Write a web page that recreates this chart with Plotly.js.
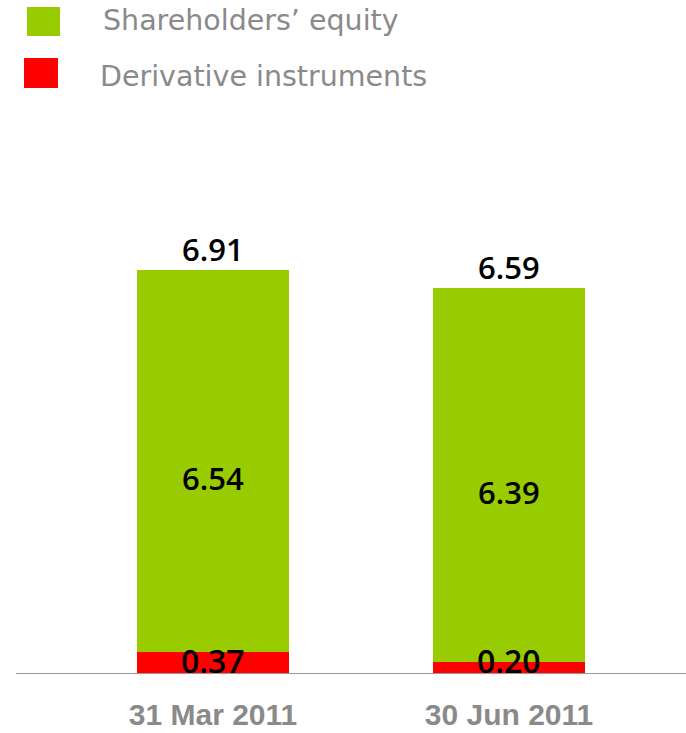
<!DOCTYPE html>
<html>
<head>
<meta charset="utf-8">
<script src="https://cdn.plot.ly/plotly-3.0.1.min.js"></script>
<style>html,body{margin:0;padding:0;background:#fff;}#chart{width:686px;height:733px;}</style>
</head>
<body>
<div id="chart"></div>
<script>
const categories = ["31 Mar 2011", "30 Jun 2011"];
const derivative = [0.37, 0.20];
const equity = [6.54, 6.39];
const totals = [6.91, 6.59];
const seriesNames = ["Shareholders’ equity", "Derivative instruments"];

const GREEN = "#99CC00", RED = "#FF0000", GREY = "#8a8a8a";
const W = 686, H = 733, baseY = 674;

const traces = [
  {type: "bar", x: categories, y: derivative, name: seriesNames[1], marker: {color: RED}, width: 0.514, hoverinfo: "none", showlegend: false},
  {type: "bar", x: categories, y: equity, name: seriesNames[0], marker: {color: GREEN}, width: 0.514, hoverinfo: "none", showlegend: false}
];

const valFont = {family: "Open Sans, sans-serif", size: 31, color: "#000", weight: 600};
const annotations = [];
categories.forEach((c, i) => {
  annotations.push({x: c, y: totals[i], xref: "x", yref: "y", text: totals[i].toFixed(2), showarrow: false, yanchor: "bottom", yshift: -2, font: valFont});
  annotations.push({x: c, y: derivative[i] + equity[i] / 2, xref: "x", yref: "y", text: equity[i].toFixed(2), showarrow: false, yanchor: "middle", yshift: -17, font: valFont});
  annotations.push({x: c, y: 0, xref: "x", yref: "y", text: derivative[i].toFixed(2), showarrow: false, yanchor: "middle", yshift: 14,
    font: {family: "Open Sans, sans-serif", size: 32, color: "#000", weight: 600}});
});
// legend texts
const px = v => v / W, py = v => (baseY - v) / baseY;
annotations.push({x: px(101), y: py(20), xref: "paper", yref: "paper", xanchor: "left", yanchor: "middle", showarrow: false,
  text: seriesNames[0], font: {family: "DejaVu Sans, sans-serif", size: 28.5, color: GREY}});
annotations.push({x: px(98), y: py(76), xref: "paper", yref: "paper", xanchor: "left", yanchor: "middle", showarrow: false,
  text: seriesNames[1], font: {family: "DejaVu Sans, sans-serif", size: 28.5, color: GREY}});

const shapes = [
  {type: "rect", xref: "paper", yref: "paper", x0: px(27), x1: px(60), y0: py(36), y1: py(7), fillcolor: GREEN, line: {width: 0}},
  {type: "rect", xref: "paper", yref: "paper", x0: px(24), x1: px(58), y0: py(88), y1: py(58), fillcolor: RED, line: {width: 0}},
  {type: "line", xref: "paper", yref: "y", x0: px(16), x1: 1, y0: 0, y1: 0, line: {color: "#999999", width: 2}, layer: "above"}
];

const layout = {
  width: W, height: H,
  margin: {l: 0, r: 0, t: 0, b: H - baseY},
  paper_bgcolor: "#fff", plot_bgcolor: "#fff",
  barmode: "stack",
  showlegend: false,
  xaxis: {type: "category", range: [-0.7196, 1.598], showline: false, showgrid: false, zeroline: false, ticks: "",
    tickfont: {family: "Liberation Sans, Arial, sans-serif", size: 30, color: GREY, weight: "bold"}, ticklabelstandoff: 20, fixedrange: true},
  yaxis: {range: [0, 11.52], visible: false, fixedrange: true},
  annotations: annotations,
  shapes: shapes
};

Plotly.newPlot("chart", traces, layout, {displayModeBar: false, staticPlot: true});
</script>
</body>
</html>
